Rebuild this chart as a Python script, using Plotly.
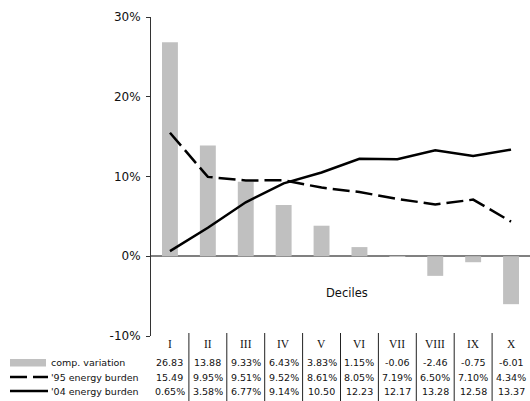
import plotly.graph_objects as go

# Income deciles and the three series shown in the data table
deciles = ["I", "II", "III", "IV", "V", "VI", "VII", "VIII", "IX", "X"]
comp_variation = [26.83, 13.88, 9.33, 6.43, 3.83, 1.15, -0.06, -2.46, -0.75, -6.01]
burden_95 = [15.49, 9.95, 9.51, 9.52, 8.61, 8.05, 7.19, 6.50, 7.10, 4.34]
burden_04 = [0.65, 3.58, 6.77, 9.14, 10.50, 12.23, 12.17, 13.28, 12.58, 13.37]
series_names = ["comp. variation", "'95 energy burden", "'04 energy burden"]
y_ticks = [-10, 0, 10, 20, 30]

W, H = 530, 401
M_L, M_R, M_T, M_B = 151, 0, 17, 65
PLOT_H = H - M_T - M_B
BAR_COLOR = "#c0c0c0"
SANS = "DejaVu Sans"
DASH = "17px,6px"


def py(pix):
    """Pixel row -> paper y coordinate."""
    return (H - M_B - pix) / PLOT_H


def px(pix):
    """Pixel column -> paper x coordinate."""
    return (pix - M_L) / (W - M_L - M_R)


def cell(v):
    # Table cells are narrow: values keep at most five characters
    return f"{v:.2f}%"[:5]


fig = go.Figure()
fig.add_trace(go.Bar(x=deciles, y=comp_variation, name=series_names[0],
                     marker=dict(color=BAR_COLOR, line=dict(width=0)), width=0.42))
fig.add_trace(go.Scatter(x=deciles, y=burden_95, name=series_names[1], mode="lines",
                         line=dict(color="black", width=2.5, dash=DASH)))
fig.add_trace(go.Scatter(x=deciles, y=burden_04, name=series_names[2], mode="lines",
                         line=dict(color="black", width=2.5)))

shapes = []
annotations = []

# Data table below the plot
rows = [comp_variation, burden_95, burden_04]
row_pix = [362, 377, 391]
for vals, rp in zip(rows, row_pix):
    for d, v in zip(deciles, vals):
        annotations.append(dict(x=d, y=py(rp), xref="x", yref="paper", text=cell(v),
                                showarrow=False, xanchor="center", yanchor="middle",
                                font=dict(family=SANS, size=9.5, color="#111")))
for d in deciles:
    annotations.append(dict(x=d, y=py(344), xref="x", yref="paper", text=d,
                            showarrow=False, xanchor="center", yanchor="middle",
                            font=dict(family="Liberation Serif", size=11.5, color="#111")))
for k in range(1, len(deciles)):
    shapes.append(dict(type="line", xref="x", yref="paper", x0=k - 0.5, x1=k - 0.5,
                       y0=py(333), y1=py(H + 2), line=dict(color="#222", width=1)))

# Row keys and names
for name, rp in zip(series_names, row_pix):
    annotations.append(dict(x=px(49), y=py(rp), xref="paper", yref="paper", text=name,
                            showarrow=False, xanchor="left", yanchor="middle",
                            font=dict(family=SANS, size=9.5, color="#111")))
shapes.append(dict(type="rect", xref="paper", yref="paper", x0=px(10), x1=px(46),
                   y0=py(366.5), y1=py(359), fillcolor=BAR_COLOR, line=dict(width=0)))
shapes.append(dict(type="line", xref="paper", yref="paper", x0=px(10), x1=px(48),
                   y0=py(377), y1=py(377), line=dict(color="black", width=2.5, dash=DASH)))
shapes.append(dict(type="line", xref="paper", yref="paper", x0=px(10), x1=px(48),
                   y0=py(391), y1=py(391), line=dict(color="black", width=2.5)))

annotations.append(dict(x=px(347), y=py(293), xref="paper", yref="paper", text="Deciles",
                        showarrow=False, xanchor="center", yanchor="middle",
                        font=dict(family=SANS, size=11.5, color="#111")))

fig.update_layout(
    width=W, height=H,
    margin=dict(l=M_L, r=M_R, t=M_T, b=M_B, pad=0),
    paper_bgcolor="white", plot_bgcolor="white",
    showlegend=False, bargap=0.58,
    shapes=shapes, annotations=annotations,
    xaxis=dict(type="category", range=[-0.5, 9.5], showticklabels=False, ticks="",
               showline=False, showgrid=False, zeroline=False),
    yaxis=dict(range=[-10, 30], tickvals=y_ticks, ticktext=[f"{t}%" for t in y_ticks],
               ticks="outside", ticklen=4, tickcolor="#333", tickwidth=1,
               ticklabelstandoff=3,
               showline=True, linecolor="#333", linewidth=1,
               showgrid=False, zeroline=True, zerolinecolor="#808080", zerolinewidth=1.5,
               tickfont=dict(family=SANS, size=12, color="#111")),
)

fig.write_html("out.html")
